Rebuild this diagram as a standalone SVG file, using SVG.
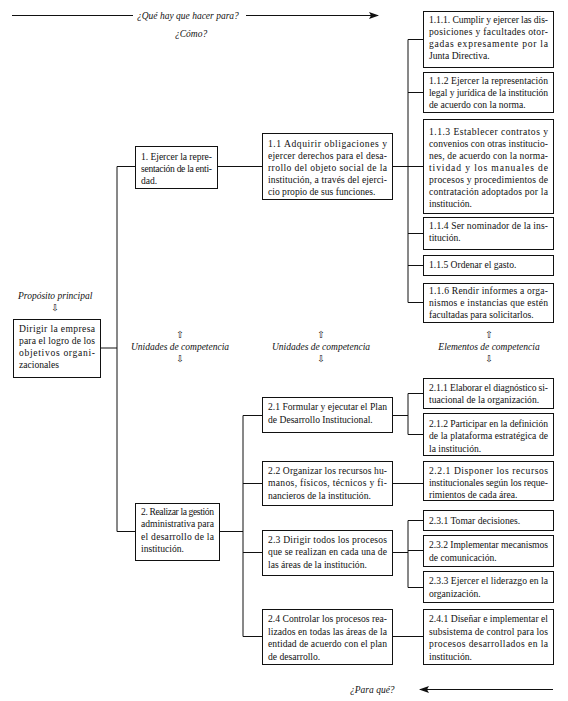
<svg xmlns="http://www.w3.org/2000/svg" width="568" height="701" viewBox="0 0 568 701">
<style>
rect.b{fill:#fff;stroke:#111;stroke-width:1}
.c line, .c path{stroke:#111;stroke-width:1;fill:none}
text{font-family:"Liberation Serif","Times New Roman",serif;font-size:9.6px;fill:#111}
text.l{font-style:italic;font-size:9.5px}
text.ar{font-family:"DejaVu Sans",sans-serif;font-size:9.5px;text-anchor:middle}
</style>
<defs>
<marker id="ah" markerWidth="10" markerHeight="8" refX="9" refY="4" orient="auto" markerUnits="userSpaceOnUse">
<path d="M0,0.5 L10,4 L0,7.5 L2,4 Z" fill="#111"/>
</marker>
</defs>
<rect width="568" height="701" fill="#fff"/>

<g id="labels">
<line x1="12" y1="15.5" x2="133" y2="15.5" stroke="#111"/>
<text class="l" x="137" y="18.5">¿Qué hay que hacer para?</text>
<line x1="246" y1="15.5" x2="378" y2="15.5" stroke="#111" marker-end="url(#ah)"/>
<text class="l" x="175" y="37">¿Cómo?</text>
<text class="l" x="18" y="299">Propósito principal</text>
<text class="ar" x="55" y="311">⇩</text>
<text class="ar" x="180" y="338">⇧</text>
<text class="l" x="180" y="350" text-anchor="middle">Unidades de competencia</text>
<text class="ar" x="180" y="362">⇩</text>
<text class="ar" x="321" y="338">⇧</text>
<text class="l" x="321" y="350" text-anchor="middle">Unidades de competencia</text>
<text class="ar" x="321" y="362">⇩</text>
<text class="ar" x="489" y="338">⇧</text>
<text class="l" x="489" y="350" text-anchor="middle">Elementos de competencia</text>
<text class="ar" x="489" y="362">⇩</text>
<text class="l" x="350" y="693">¿Para qué?</text>
<line x1="553" y1="689.5" x2="420" y2="689.5" stroke="#111" marker-end="url(#ah)"/>
</g>

<g class="c" id="connectors">
<line x1="100" y1="348" x2="117" y2="348"/>
<line x1="117" y1="166.5" x2="117" y2="531.5"/>
<line x1="117" y1="166.5" x2="135" y2="166.5"/>
<line x1="117" y1="531.5" x2="135" y2="531.5"/>
<line x1="218" y1="166.5" x2="262" y2="166.5"/>
<line x1="392" y1="166.5" x2="408" y2="166.5"/>
<line x1="408" y1="39.5" x2="408" y2="302.5"/>
<line x1="408" y1="39.5" x2="423" y2="39.5"/>
<line x1="408" y1="92.5" x2="423" y2="92.5"/>
<line x1="408" y1="166.5" x2="423" y2="166.5"/>
<line x1="408" y1="233.5" x2="423" y2="233.5"/>
<line x1="408" y1="265.5" x2="423" y2="265.5"/>
<line x1="408" y1="302.5" x2="423" y2="302.5"/>
<line x1="219" y1="531.5" x2="243" y2="531.5"/>
<line x1="243" y1="415.5" x2="243" y2="636.5"/>
<line x1="243" y1="415.5" x2="262" y2="415.5"/>
<line x1="243" y1="483.5" x2="262" y2="483.5"/>
<line x1="243" y1="552.5" x2="262" y2="552.5"/>
<line x1="243" y1="636.5" x2="262" y2="636.5"/>
<line x1="392" y1="415.5" x2="408" y2="415.5"/>
<line x1="408" y1="393.5" x2="408" y2="434.5"/>
<line x1="408" y1="393.5" x2="423" y2="393.5"/>
<line x1="408" y1="434.5" x2="423" y2="434.5"/>
<line x1="392" y1="483.5" x2="423" y2="483.5"/>
<line x1="392" y1="552.5" x2="408" y2="552.5"/>
<line x1="408" y1="520.5" x2="408" y2="587.5"/>
<line x1="408" y1="520.5" x2="423" y2="520.5"/>
<line x1="408" y1="550.5" x2="423" y2="550.5"/>
<line x1="408" y1="587.5" x2="423" y2="587.5"/>
<line x1="392" y1="636.5" x2="423" y2="636.5"/>
</g>

<g id="n0">
<rect class="b" x="13.5" y="319.5" width="87" height="58"/>
<text x="19" y="332" textLength="76" lengthAdjust="spacing">Dirigir la empresa</text>
<text x="19" y="344" textLength="76" lengthAdjust="spacing">para el logro de los</text>
<text x="19" y="356" textLength="76" lengthAdjust="spacing">objetivos organi-</text>
<text x="19" y="368">zacionales</text>
</g>

<g id="n1">
<rect class="b" x="135.5" y="146.5" width="82" height="42"/>
<text x="141" y="160" textLength="71" lengthAdjust="spacing">1. Ejercer la repre-</text>
<text x="141" y="172" textLength="71" lengthAdjust="spacing">sentación de la enti-</text>
<text x="141" y="184">dad.</text>
</g>

<g id="n1_1">
<rect class="b" x="262.5" y="133.5" width="130" height="66"/>
<text x="268" y="147" textLength="119" lengthAdjust="spacing">1.1 Adquirir obligaciones y</text>
<text x="268" y="159" textLength="119" lengthAdjust="spacing">ejercer derechos para el desa-</text>
<text x="268" y="171" textLength="119" lengthAdjust="spacing">rrollo del objeto social de la</text>
<text x="268" y="183" textLength="119" lengthAdjust="spacing">institución, a través del ejerci-</text>
<text x="268" y="195">cio propio de sus funciones.</text>
</g>

<g id="n1_1_1">
<rect class="b" x="423.5" y="11.5" width="130" height="56"/>
<text x="429" y="23" textLength="119" lengthAdjust="spacing">1.1.1. Cumplir y ejercer las dis-</text>
<text x="429" y="35" textLength="119" lengthAdjust="spacing">posiciones y facultades otor-</text>
<text x="429" y="47" textLength="119" lengthAdjust="spacing">gadas expresamente por la</text>
<text x="429" y="59">Junta Directiva.</text>
</g>

<g id="n1_1_2">
<rect class="b" x="423.5" y="72.5" width="130" height="40"/>
<text x="429" y="84" textLength="119" lengthAdjust="spacing">1.1.2 Ejercer la representación</text>
<text x="429" y="96" textLength="119" lengthAdjust="spacing">legal y jurídica de la institución</text>
<text x="429" y="108">de acuerdo con la norma.</text>
</g>

<g id="n1_1_3">
<rect class="b" x="423.5" y="119.5" width="130" height="94"/>
<text x="429" y="135" textLength="119" lengthAdjust="spacing">1.1.3 Establecer contratos y</text>
<text x="429" y="147" textLength="119" lengthAdjust="spacing">convenios con otras institucio-</text>
<text x="429" y="159" textLength="119" lengthAdjust="spacing">nes, de acuerdo con la norma-</text>
<text x="429" y="171" textLength="119" lengthAdjust="spacing">tividad y los manuales de</text>
<text x="429" y="183" textLength="119" lengthAdjust="spacing">procesos y procedimientos de</text>
<text x="429" y="195" textLength="119" lengthAdjust="spacing">contratación adoptados por la</text>
<text x="429" y="207">institución.</text>
</g>

<g id="n1_1_4">
<rect class="b" x="423.5" y="217.5" width="130" height="32"/>
<text x="429" y="229" textLength="119" lengthAdjust="spacing">1.1.4 Ser nominador de la ins-</text>
<text x="429" y="241">titución.</text>
</g>

<g id="n1_1_5">
<rect class="b" x="423.5" y="255.5" width="130" height="20"/>
<text x="429" y="268">1.1.5 Ordenar el gasto.</text>
</g>

<g id="n1_1_6">
<rect class="b" x="423.5" y="283.5" width="130" height="39"/>
<text x="429" y="294" textLength="119" lengthAdjust="spacing">1.1.6 Rendir informes a orga-</text>
<text x="429" y="306" textLength="119" lengthAdjust="spacing">nismos e instancias que estén</text>
<text x="429" y="318">facultadas para solicitarlos.</text>
</g>

<g id="n2">
<rect class="b" x="135.5" y="503.5" width="84" height="57"/>
<text x="141" y="515" textLength="73" lengthAdjust="spacing">2. Realizar la gestión</text>
<text x="141" y="527" textLength="73" lengthAdjust="spacing">administrativa para</text>
<text x="141" y="539.5" textLength="73" lengthAdjust="spacing">el desarrollo de la</text>
<text x="141" y="552">institución.</text>
</g>

<g id="n2_1">
<rect class="b" x="262.5" y="397.5" width="130" height="35"/>
<text x="268" y="410" textLength="119" lengthAdjust="spacing">2.1 Formular y ejecutar el Plan</text>
<text x="268" y="422.5">de Desarrollo Institucional.</text>
</g>

<g id="n2_2">
<rect class="b" x="262.5" y="461.5" width="130" height="44"/>
<text x="268" y="473.5" textLength="119" lengthAdjust="spacing">2.2 Organizar los recursos hu-</text>
<text x="268" y="486" textLength="119" lengthAdjust="spacing">manos, físicos, técnicos y fi-</text>
<text x="268" y="498.5">nancieros de la institución.</text>
</g>

<g id="n2_3">
<rect class="b" x="262.5" y="530.5" width="130" height="45"/>
<text x="268" y="542.5" textLength="119" lengthAdjust="spacing">2.3 Dirigir todos los procesos</text>
<text x="268" y="555" textLength="119" lengthAdjust="spacing">que se realizan en cada una de</text>
<text x="268" y="567.5">las áreas de la institución.</text>
</g>

<g id="n2_4">
<rect class="b" x="262.5" y="609.5" width="130" height="55"/>
<text x="268" y="622" textLength="119" lengthAdjust="spacing">2.4 Controlar los procesos rea-</text>
<text x="268" y="634.5" textLength="119" lengthAdjust="spacing">lizados en todas las áreas de la</text>
<text x="268" y="647" textLength="119" lengthAdjust="spacing">entidad de acuerdo con el plan</text>
<text x="268" y="659.5">de desarrollo.</text>
</g>

<g id="n2_1_1">
<rect class="b" x="423.5" y="378.5" width="130" height="30"/>
<text x="429" y="391" textLength="119" lengthAdjust="spacing">2.1.1 Elaborar el diagnóstico si-</text>
<text x="429" y="403">tuacional de la organización.</text>
</g>

<g id="n2_1_2">
<rect class="b" x="423.5" y="413.5" width="130" height="42"/>
<text x="429" y="426.5" textLength="119" lengthAdjust="spacing">2.1.2 Participar en la definición</text>
<text x="429" y="439" textLength="119" lengthAdjust="spacing">de la plataforma estratégica de</text>
<text x="429" y="451.5">la institución.</text>
</g>

<g id="n2_2_1">
<rect class="b" x="423.5" y="461.5" width="130" height="39"/>
<text x="429" y="474" textLength="119" lengthAdjust="spacing">2.2.1 Disponer los recursos</text>
<text x="429" y="486" textLength="119" lengthAdjust="spacing">institucionales según los reque-</text>
<text x="429" y="498">rimientos de cada área.</text>
</g>

<g id="n2_3_1">
<rect class="b" x="423.5" y="510.5" width="130" height="20"/>
<text x="429" y="523.5">2.3.1 Tomar decisiones.</text>
</g>

<g id="n2_3_2">
<rect class="b" x="423.5" y="535.5" width="130" height="31"/>
<text x="429" y="548" textLength="119" lengthAdjust="spacing">2.3.2 Implementar mecanismos</text>
<text x="429" y="560.5">de comunicación.</text>
</g>

<g id="n2_3_3">
<rect class="b" x="423.5" y="571.5" width="130" height="31"/>
<text x="429" y="584" textLength="119" lengthAdjust="spacing">2.3.3 Ejercer el liderazgo en la</text>
<text x="429" y="596.5">organización.</text>
</g>

<g id="n2_4_1">
<rect class="b" x="423.5" y="609.5" width="130" height="55"/>
<text x="429" y="622" textLength="119" lengthAdjust="spacing">2.4.1 Diseñar e implementar el</text>
<text x="429" y="634.5" textLength="119" lengthAdjust="spacing">subsistema de control para los</text>
<text x="429" y="647" textLength="119" lengthAdjust="spacing">procesos desarrollados en la</text>
<text x="429" y="659.5">institución.</text>
</g>
</svg>
